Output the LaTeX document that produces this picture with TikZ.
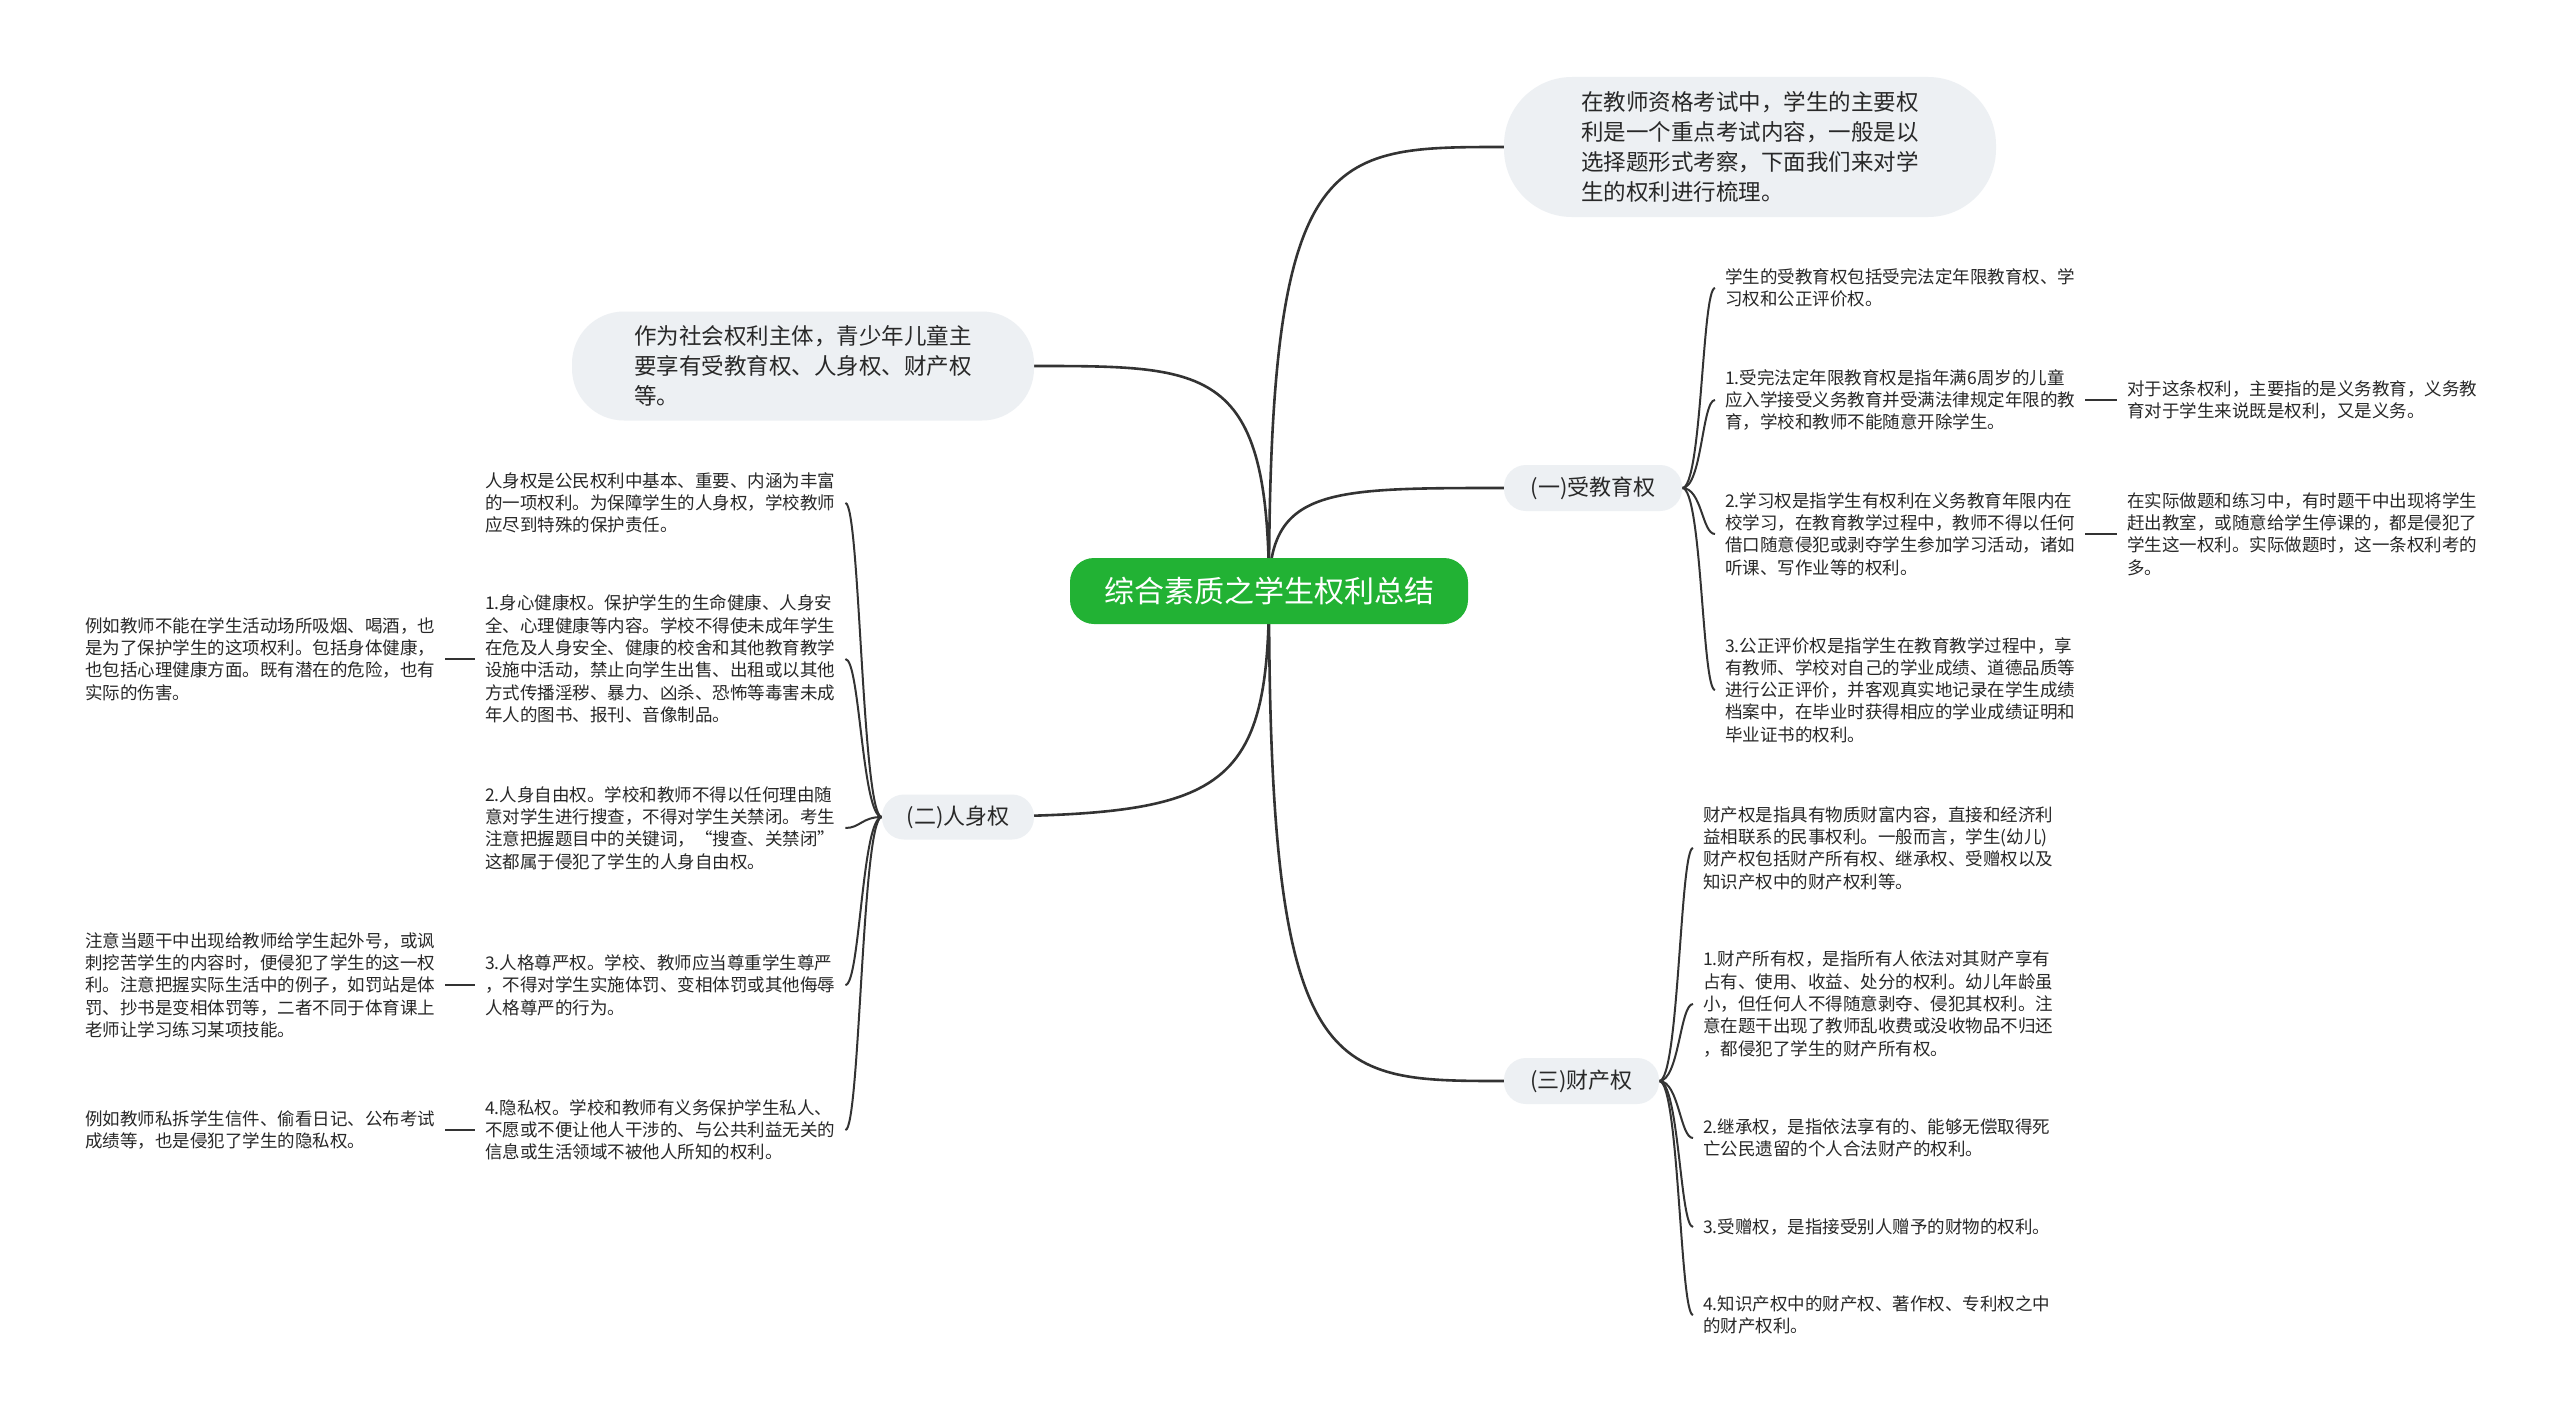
\documentclass[tikz,border=0pt]{standalone}
\usepackage{fontspec}
\setmainfont{Noto Sans CJK SC}
\usetikzlibrary{backgrounds}
\definecolor{txt}{RGB}{40,40,40}
\definecolor{ln}{RGB}{51,51,51}
\definecolor{bub}{RGB}{237,240,243}
\definecolor{grn}{RGB}{34,178,52}
\begin{document}
\begin{tikzpicture}[x=1pt,y=-1pt,
  bubble/.style={fill=bub, text=txt, align=left, font=\fontsize{22.5}{30}\selectfont, inner sep=0pt},
  branch/.style={fill=bub, text=txt, font=\fontsize{22}{26}\selectfont, inner sep=0pt, rounded corners=22pt},
  leaf/.style={text=txt, align=left, font=\fontsize{17.5}{22.3}\selectfont, inner xsep=10pt, inner ysep=3pt, anchor=west},
  mainline/.style={draw=ln, line width=2.6pt},
  subline/.style={draw=ln, line width=2pt},
]
\useasboundingbox (0,0) rectangle (2560,1421);

% root and branches
\node[fill=grn, text=white, font=\fontsize{30}{34}\selectfont, minimum width=398pt, minimum height=66pt, rounded corners=24pt, inner sep=0pt] (root) at (1269,591) {综合素质之学生权利总结};
\node[bubble, minimum width=492pt, minimum height=140pt, rounded corners=68pt] (top) at (1750,147) {在教师资格考试中，学生的主要权\\利是一个重点考试内容，一般是以\\选择题形式考察，下面我们来对学\\生的权利进行梳理。};
\node[bubble, minimum width=462pt, minimum height=109pt, rounded corners=52pt] (lb) at (803,366) {作为社会权利主体，青少年儿童主\\要享有受教育权、人身权、财产权\\等。};
\node[branch, minimum width=178pt, minimum height=46pt] (b1) at (1593,488) {(一)受教育权};
\node[branch, minimum width=152pt, minimum height=45pt] (b2) at (958,817) {(二)人身权};
\node[branch, minimum width=155pt, minimum height=46pt] (b3) at (1581.5,1081) {(三)财产权};

% (一) children
\node[leaf] (c1a) at (1715,288) {学生的受教育权包括受完法定年限教育权、学\\习权和公正评价权。};
\node[leaf] (c1b) at (1715,400) {1.受完法定年限教育权是指年满6周岁的儿童\\应入学接受义务教育并受满法律规定年限的教\\育，学校和教师不能随意开除学生。};
\node[leaf] (c1c) at (1715,534) {2.学习权是指学生有权利在义务教育年限内在\\校学习，在教育教学过程中，教师不得以任何\\借口随意侵犯或剥夺学生参加学习活动，诸如\\听课、写作业等的权利。};
\node[leaf] (c1d) at (1715,690) {3.公正评价权是指学生在教育教学过程中，享\\有教师、学校对自己的学业成绩、道德品质等\\进行公正评价，并客观真实地记录在学生成绩\\档案中，在毕业时获得相应的学业成绩证明和\\毕业证书的权利。};
\node[leaf] (n1a) at (2117,400) {对于这条权利，主要指的是义务教育，义务教\\育对于学生来说既是权利，又是义务。};
\node[leaf] (n1b) at (2117,534) {在实际做题和练习中，有时题干中出现将学生\\赶出教室，或随意给学生停课的，都是侵犯了\\学生这一权利。实际做题时，这一条权利考的\\多。};

% (三) children
\node[leaf] (c3a) at (1693,848) {财产权是指具有物质财富内容，直接和经济利\\益相联系的民事权利。一般而言，学生(幼儿)\\财产权包括财产所有权、继承权、受赠权以及\\知识产权中的财产权利等。};
\node[leaf] (c3b) at (1693,1004) {1.财产所有权，是指所有人依法对其财产享有\\占有、使用、收益、处分的权利。幼儿年龄虽\\小，但任何人不得随意剥夺、侵犯其权利。注\\意在题干出现了教师乱收费或没收物品不归还\\，都侵犯了学生的财产所有权。};
\node[leaf] (c3c) at (1693,1138) {2.继承权，是指依法享有的、能够无偿取得死\\亡公民遗留的个人合法财产的权利。};
\node[leaf] (c3d) at (1693,1227) {3.受赠权，是指接受别人赠予的财物的权利。};
\node[leaf] (c3e) at (1693,1315) {4.知识产权中的财产权、著作权、专利权之中\\的财产权利。};

% (二) children
\node[leaf] (l1) at (475,503) {人身权是公民权利中基本、重要、内涵为丰富\\的一项权利。为保障学生的人身权，学校教师\\应尽到特殊的保护责任。};
\node[leaf] (l2) at (475,659) {1.身心健康权。保护学生的生命健康、人身安\\全、心理健康等内容。学校不得使未成年学生\\在危及人身安全、健康的校舍和其他教育教学\\设施中活动，禁止向学生出售、出租或以其他\\方式传播淫秽、暴力、凶杀、恐怖等毒害未成\\年人的图书、报刊、音像制品。};
\node[leaf] (l3) at (475,828) {2.人身自由权。学校和教师不得以任何理由随\\意对学生进行搜查，不得对学生关禁闭。考生\\注意把握题目中的关键词，“搜查、关禁闭”\\这都属于侵犯了学生的人身自由权。};
\node[leaf] (l4) at (475,985) {3.人格尊严权。学校、教师应当尊重学生尊严\\，不得对学生实施体罚、变相体罚或其他侮辱\\人格尊严的行为。};
\node[leaf] (l5) at (475,1130) {4.隐私权。学校和教师有义务保护学生私人、\\不愿或不便让他人干涉的、与公共利益无关的\\信息或生活领域不被他人所知的权利。};
\node[leaf] (m1) at (75,659) {例如教师不能在学生活动场所吸烟、喝酒，也\\是为了保护学生的这项权利。包括身体健康，\\也包括心理健康方面。既有潜在的危险，也有\\实际的伤害。};
\node[leaf] (m3) at (75,985) {注意当题干中出现给教师给学生起外号，或讽\\刺挖苦学生的内容时，便侵犯了学生的这一权\\利。注意把握实际生活中的例子，如罚站是体\\罚、抄书是变相体罚等，二者不同于体育课上\\老师让学习练习某项技能。};
\node[leaf] (m4) at (75,1130) {例如教师私拆学生信件、偷看日记、公布考试\\成绩等，也是侵犯了学生的隐私权。};

\begin{pgfonlayer}{background}
\fill[white] (0,0) rectangle (2560,1421);
% main curves
\draw[mainline] (root.center) .. controls (1269,147) and (1328,147) .. (top.west);
\draw[mainline] (root.center) .. controls (1269,488) and (1328,488) .. (b1.west);
\draw[mainline] (root.center) .. controls (1269,1081) and (1328,1081) .. (b3.west);
\draw[mainline] (root.center) .. controls (1269,366) and (1210,366) .. (lb.east);
\draw[mainline] (root.center) .. controls (1269,817) and (1210,817) .. (b2.west);
% (一) brackets
\draw[subline] (b1.east) .. controls (1702,488) and (1702,288) .. (c1a.west);
\draw[subline] (b1.east) .. controls (1702,488) and (1702,400) .. (c1b.west);
\draw[subline] (b1.east) .. controls (1702,488) and (1702,534) .. (c1c.west);
\draw[subline] (b1.east) .. controls (1702,488) and (1702,690) .. (c1d.west);
\draw[subline] (c1b.east) -- (n1a.west);
\draw[subline] (c1c.east) -- (n1b.west);
% (三) brackets
\draw[subline] (b3.east) .. controls (1679,1081) and (1680,848) .. (c3a.west);
\draw[subline] (b3.east) .. controls (1679,1081) and (1680,1004) .. (c3b.west);
\draw[subline] (b3.east) .. controls (1679,1081) and (1680,1138) .. (c3c.west);
\draw[subline] (b3.east) .. controls (1679,1081) and (1680,1227) .. (c3d.west);
\draw[subline] (b3.east) .. controls (1679,1081) and (1680,1315) .. (c3e.west);
% (二) brackets
\draw[subline] (b2.west) .. controls (862,817) and (860,503) .. (l1.east);
\draw[subline] (b2.west) .. controls (862,817) and (860,659) .. (l2.east);
\draw[subline] (b2.west) .. controls (862,817) and (860,828) .. (l3.east);
\draw[subline] (b2.west) .. controls (862,817) and (860,985) .. (l4.east);
\draw[subline] (b2.west) .. controls (862,817) and (860,1130) .. (l5.east);
\draw[subline] (m1.east) -- (l2.west);
\draw[subline] (m3.east) -- (l4.west);
\draw[subline] (m4.east) -- (l5.west);
\end{pgfonlayer}
\end{tikzpicture}
\end{document}
